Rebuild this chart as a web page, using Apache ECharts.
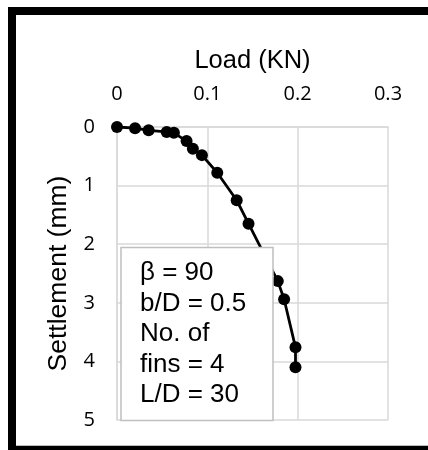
<!DOCTYPE html>
<html>
<head>
<meta charset="utf-8">
<script src="https://cdn.jsdelivr.net/npm/echarts@6/dist/echarts.min.js"></script>
<style>
html,body{margin:0;padding:0;background:#fff;}
#chart{width:428px;height:450px;}
</style>
</head>
<body>
<div id="chart"></div>
<script>
// Data
var loadKN = [0, 0.02, 0.035, 0.055, 0.063, 0.077, 0.084, 0.094, 0.111, 0.1325, 0.1456, 0.178, 0.185, 0.1976, 0.1976];
var settlementMM = [0, 0.02, 0.056, 0.085, 0.10, 0.24, 0.37, 0.48, 0.78, 1.25, 1.65, 2.63, 2.94, 3.76, 4.10];
var xTicks = [0, 0.1, 0.2, 0.3];
var yTicks = [0, 1, 2, 3, 4, 5];
var noteLines = ['β = 90', 'b/D = 0.5', 'No. of', 'fins = 4', 'L/D = 30'];
var xTitle = 'Load (KN)';
var yTitle = 'Settlement (mm)';

var points = loadKN.map(function (x, i) { return [x, settlementMM[i]]; });

var chart = echarts.init(document.getElementById('chart'), null, {renderer: 'canvas'});
var gridColor = '#d9d9d9';
var tickFont = {fontFamily: 'Open Sans', fontSize: 20, color: '#000'};

chart.setOption({
  animation: false,
  backgroundColor: '#fff',
  grid: {left: 117, top: 127, right: 40, bottom: 30, containLabel: false},
  xAxis: {
    type: 'value', position: 'top',
    min: xTicks[0], max: xTicks[xTicks.length - 1], interval: 0.1,
    name: xTitle, nameLocation: 'middle', nameGap: 53,
    nameTextStyle: {fontFamily: 'Liberation Sans', fontSize: 25.5, color: '#000'},
    axisLine: {show: true, lineStyle: {color: gridColor, width: 1.5}},
    axisTick: {show: false},
    axisLabel: Object.assign({margin: 23}, tickFont),
    splitLine: {show: true, lineStyle: {color: gridColor, width: 1.5}}
  },
  yAxis: {
    type: 'value', inverse: true,
    min: yTicks[0], max: yTicks[yTicks.length - 1], interval: 1,
    name: yTitle, nameLocation: 'middle', nameGap: 45,
    nameTextStyle: {fontFamily: 'Liberation Sans', fontSize: 26.5, color: '#000'},
    axisLine: {show: true, lineStyle: {color: gridColor, width: 1.5}},
    axisTick: {show: false},
    axisLabel: Object.assign({margin: 22}, tickFont),
    splitLine: {show: true, lineStyle: {color: gridColor, width: 1.5}}
  },
  series: [{
    type: 'line',
    data: points,
    symbol: 'circle', symbolSize: 12,
    itemStyle: {color: '#000'},
    lineStyle: {color: '#000', width: 2.8}
  }],
  graphic: [
    {
      type: 'rect', z: 100,
      shape: {x: 121, y: 247.5, width: 152, height: 173},
      style: {fill: '#fff', stroke: '#bfbfbf', lineWidth: 1.5}
    },
    {
      type: 'text', z: 101,
      x: 140, y: 258,
      style: {
        text: noteLines.join('\n'),
        fontFamily: 'Liberation Sans', fontSize: 26, lineHeight: 30.5,
        fill: '#000', verticalAlign: 'top', align: 'left'
      }
    },
    {
      type: 'rect', z: 110,
      shape: {x: 12, y: 11, width: 440, height: 438.7},
      style: {fill: 'none', stroke: '#000', lineWidth: 8}
    }
  ]
});
</script>
</body>
</html>
